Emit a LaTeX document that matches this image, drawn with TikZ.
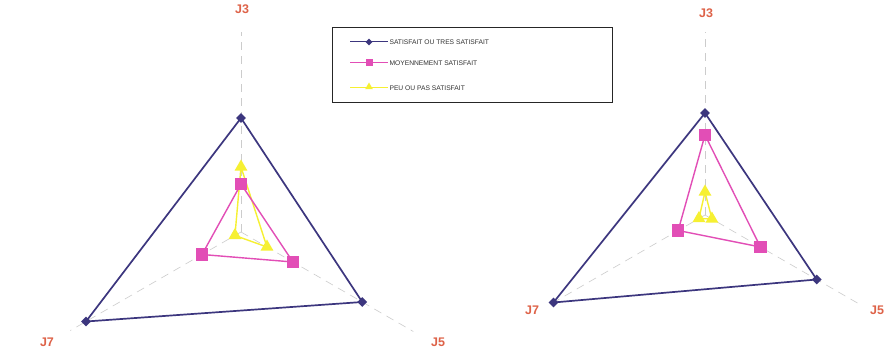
\documentclass[tikz,border=0pt]{standalone}
\usepackage{fontspec}
\setmainfont{Liberation Sans}
\usetikzlibrary{shapes.geometric}
\definecolor{satbleu}{RGB}{60,54,126}
\definecolor{moyrose}{RGB}{226,78,182}
\definecolor{peujaune}{RGB}{246,240,50}
\definecolor{axeorange}{RGB}{222,98,72}
\begin{document}
\begin{tikzpicture}[x=1pt,y=1pt,
	axe/.style={draw=gray!40, line width=0.6pt, dash pattern=on 8pt off 6pt},
	etiq/.style={font=\bfseries\fontsize{12.5}{13}\selectfont, text=axeorange},
	lbleu/.style={draw=satbleu, line width=1.7pt, line join=round},
	lrose/.style={draw=moyrose, line width=1.4pt, line join=round},
	ljaune/.style={draw=peujaune, line width=1.4pt, line join=round},
	mbleu/.style={diamond, fill=satbleu, inner sep=0pt, minimum size=10pt},
	mrose/.style={rectangle, fill=moyrose, inner sep=0pt, minimum size=12.5pt},
	mjaune/.style={regular polygon, regular polygon sides=3, fill=peujaune, inner sep=0pt, minimum size=15pt},
	legende/.style={anchor=west, font=\fontsize{6.7}{8}\selectfont, text=black!80}]

	\fill[white] (0,0) rectangle (896,-352);
	\useasboundingbox (0,0) rectangle (896,-352);

	% legende
	\draw[line width=0.8pt, black!85] (332,-27) rectangle (612,-102);
	\coordinate (lb1) at (350,-42);  \coordinate (lb2) at (388,-42);
	\coordinate (lr1) at (350,-63);  \coordinate (lr2) at (388,-63);
	\coordinate (lj1) at (350,-88);  \coordinate (lj2) at (388,-88);
	\draw[lbleu, line width=1pt] (lb1) -- (lb2);
	\draw[lrose, line width=1pt] (lr1) -- (lr2);
	\draw[ljaune, line width=1pt] (lj1) -- (lj2);
	\node[mbleu, minimum size=7pt] at (369,-42) {};
	\node[mrose, minimum size=7pt] at (369,-63) {};
	\node[mjaune, minimum size=9pt] at (369,-87) {};
	\node[legende] (tb) at (386,-42) {SATISFAIT OU TRES SATISFAIT};
	\node[legende] (tr) at (386,-63) {MOYENNEMENT SATISFAIT};
	\node[legende] (tj) at (386,-88) {PEU OU PAS SATISFAIT};

	% premier diagramme
	\begin{scope}[shift={(241,-232)}]
		\coordinate (c1) at (0,0);
		\coordinate (e1J3) at (90:200);
		\coordinate (e1J5) at (330:199);
		\coordinate (e1J7) at (210:197);
		\draw[axe] (c1) -- (e1J3);
		\draw[axe] (c1) -- (e1J5);
		\draw[axe] (c1) -- (e1J7);
		\node[etiq] (a1J3) at (1,223) {J3};
		\node[etiq] (a1J5) at (197,-110) {J5};
		\node[etiq] (a1J7) at (-194,-110) {J7};
		% satisfait
		\coordinate (b1J3) at (90:114);
		\coordinate (b1J5) at (330:140);
		\coordinate (b1J7) at (210:179);
		% moyennement
		\coordinate (r1J3) at (90:48);
		\coordinate (r1J5) at (330:60);
		\coordinate (r1J7) at (210:45);
		% peu
		\coordinate (j1J3) at (90:65);
		\coordinate (j1J5) at (330:30);
		\coordinate (j1J7) at (210:7);
		\draw[lbleu] (b1J3) -- (b1J5) -- (b1J7) -- cycle;
		\draw[ljaune] (j1J3) -- (j1J5) -- (j1J7) -- cycle;
		\draw[lrose] (r1J3) -- (r1J5) -- (r1J7) -- cycle;
		\foreach \p in {b1J3,b1J5,b1J7} \node[mbleu] at (\p) {};
		\foreach \p in {j1J3,j1J5,j1J7} \node[mjaune] at (\p) {};
		\foreach \p in {r1J3,r1J5,r1J7} \node[mrose] at (\p) {};
	\end{scope}

	% second diagramme
	\begin{scope}[shift={(705,-215)}]
		\coordinate (c2) at (0,0);
		\coordinate (e2J3) at (90:183);
		\coordinate (e2J5) at (330:180);
		\coordinate (e2J7) at (210:178);
		\draw[axe] (c2) -- (e2J3);
		\draw[axe] (c2) -- (e2J5);
		\draw[axe] (c2) -- (e2J7);
		\node[etiq] (a2J3) at (1,202) {J3};
		\node[etiq] (a2J5) at (172,-95) {J5};
		\node[etiq] (a2J7) at (-173,-95) {J7};
		% satisfait
		\coordinate (b2J3) at (90:102);
		\coordinate (b2J5) at (330:129);
		\coordinate (b2J7) at (210:175);
		% moyennement
		\coordinate (r2J3) at (90:80);
		\coordinate (r2J5) at (330:64);
		\coordinate (r2J7) at (210:31);
		% peu
		\coordinate (j2J3) at (90:23);
		\coordinate (j2J5) at (330:8);
		\coordinate (j2J7) at (210:7);
		\draw[lbleu] (b2J3) -- (b2J5) -- (b2J7) -- cycle;
		\draw[ljaune] (j2J3) -- (j2J5) -- (j2J7) -- cycle;
		\draw[lrose] (r2J3) -- (r2J5) -- (r2J7) -- cycle;
		\foreach \p in {b2J3,b2J5,b2J7} \node[mbleu] at (\p) {};
		\foreach \p in {j2J3,j2J5,j2J7} \node[mjaune] at (\p) {};
		\foreach \p in {r2J3,r2J5,r2J7} \node[mrose] at (\p) {};
	\end{scope}
\end{tikzpicture}
\end{document}
